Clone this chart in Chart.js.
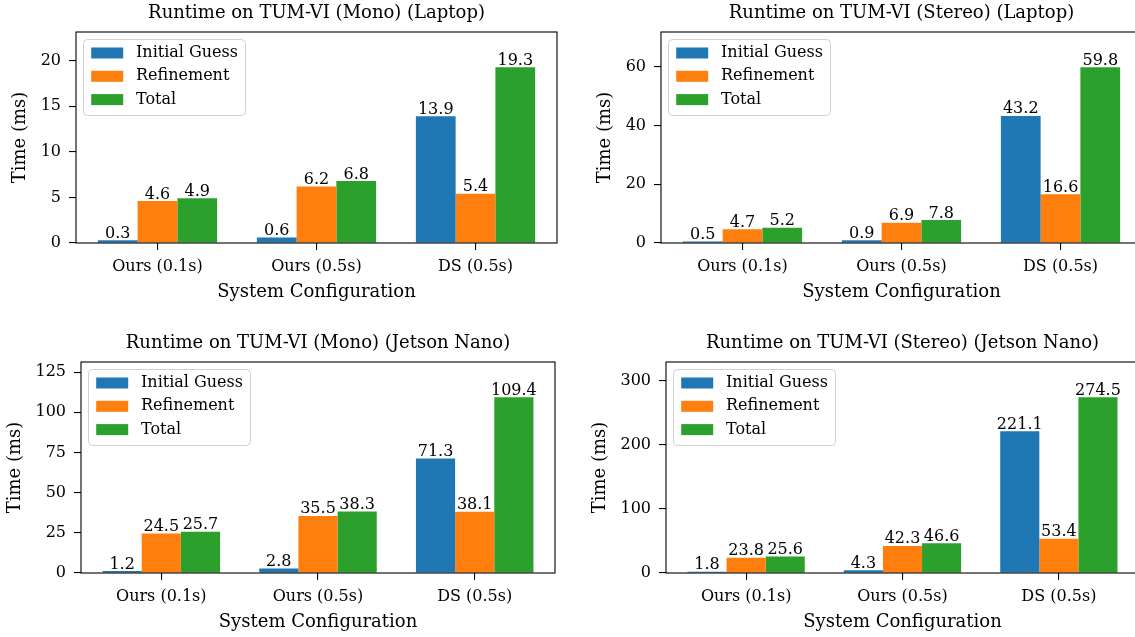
<!DOCTYPE html>
<html>
<head>
<meta charset="utf-8">
<script src="https://cdn.jsdelivr.net/npm/chart.js@4.4.1/dist/chart.umd.min.js"></script>
<style>
  html, body { margin: 0; padding: 0; background: #fff; overflow: hidden; }
  body { width: 1135px; height: 637px; position: relative; }
  canvas { position: absolute; }
</style>
</head>
<body>
<canvas id="monoLaptop"></canvas>
<canvas id="stereoLaptop"></canvas>
<canvas id="monoJetson"></canvas>
<canvas id="stereoJetson"></canvas>
<script>
const configs = ['Ours (0.1s)', 'Ours (0.5s)', 'DS (0.5s)'];
const seriesNames = ['Initial Guess', 'Refinement', 'Total'];

const monoLaptopInitial = [0.3, 0.6, 13.9];
const monoLaptopRefine = [4.6, 6.2, 5.4];
const monoLaptopTotal = [4.9, 6.8, 19.3];
const monoLaptopTicks = [0, 5, 10, 15, 20];

const stereoLaptopInitial = [0.5, 0.9, 43.2];
const stereoLaptopRefine = [4.7, 6.9, 16.6];
const stereoLaptopTotal = [5.2, 7.8, 59.8];
const stereoLaptopTicks = [0, 20, 40, 60];

const monoJetsonInitial = [1.2, 2.8, 71.3];
const monoJetsonRefine = [24.5, 35.5, 38.1];
const monoJetsonTotal = [25.7, 38.3, 109.4];
const monoJetsonTicks = [0, 25, 50, 75, 100, 125];

const stereoJetsonInitial = [1.8, 4.3, 221.1];
const stereoJetsonRefine = [23.8, 42.3, 53.4];
const stereoJetsonTotal = [25.6, 46.6, 274.5];
const stereoJetsonTicks = [0, 100, 200, 300];

const colors = ['#1f77b4', '#ff7f0e', '#2ca02c'];
const FONT = "'DejaVu Serif', serif";
Chart.defaults.font.family = FONT;
Chart.defaults.color = '#000';

// axes padding like matplotlib's default 5% margin around the bar groups
const xMin = -0.375 - 0.05 * (configs.length - 1 + 0.75);
const xMax = configs.length - 1 + 0.375 + 0.05 * (configs.length - 1 + 0.75);

const drawExtras = {
  id: 'drawExtras',
  afterDatasetsDraw(chart) {
    const { ctx, chartArea: a } = chart;
    ctx.save();
    // value labels on top of bars
    ctx.font = '16px ' + FONT;
    ctx.fillStyle = '#000';
    ctx.textAlign = 'center';
    ctx.textBaseline = 'alphabetic';
    chart.data.datasets.forEach((ds, i) => {
      chart.getDatasetMeta(i).data.forEach((bar, j) => {
        ctx.fillText(ds.values[j].toFixed(1), bar.x, bar.y - 2.5);
      });
    });
    // box around axes
    ctx.strokeStyle = '#000';
    ctx.lineWidth = 1.1;
    ctx.strokeRect(a.left, a.top, a.right - a.left, a.bottom - a.top);
    // title
    ctx.font = '18px ' + FONT;
    ctx.textBaseline = 'middle';
    ctx.fillText(chart.options.plotTitle, (a.left + a.right) / 2, a.top - 18.4);
    ctx.restore();
  },
  afterDraw(chart) {
    const { ctx, chartArea: a } = chart;
    ctx.save();
    ctx.font = '16px ' + FONT;
    const tw = Math.max(...chart.data.datasets.map(d => ctx.measureText(d.label).width));
    const x0 = a.left + 7.5, y0 = a.top + 7.5;
    const w = 7.7 + 32 + 12.8 + tw + 7.5, h = 76;
    ctx.beginPath();
    ctx.roundRect(x0, y0, w, h, 4);
    ctx.fillStyle = 'rgba(255,255,255,0.8)';
    ctx.fill();
    ctx.strokeStyle = 'rgba(204,204,204,0.9)';
    ctx.lineWidth = 1;
    ctx.stroke();
    ctx.textAlign = 'left';
    ctx.textBaseline = 'middle';
    chart.data.datasets.forEach((d, i) => {
      const cy = y0 + 13.5 + i * 23.3;
      ctx.fillStyle = d.backgroundColor;
      ctx.fillRect(x0 + 7.7, cy - 5.5, 32, 11);
      ctx.fillStyle = '#000';
      ctx.fillText(d.label, x0 + 7.7 + 32 + 12.8, cy);
    });
    ctx.restore();
  }
};

function makeChart(id, frame, title, series, yTicks, yTitleGap) {
  const W = 80, T = 32, B = 75, R = 10;
  const canvas = document.getElementById(id);
  canvas.width = frame.r - frame.l + W + R;
  canvas.height = frame.b - frame.t + T + B;
  canvas.style.left = (frame.l - W) + 'px';
  canvas.style.top = (frame.t - T) + 'px';

  const yMax = Math.max(...series[2]) * 1.2;

  new Chart(canvas.getContext('2d'), {
    type: 'bar',
    data: {
      datasets: series.map((vals, k) => ({
        label: seriesNames[k],
        data: vals.map((v, i) => ({ x: i, y: v })),
        values: vals,
        backgroundColor: colors[k],
        borderWidth: 0,
        categoryPercentage: 0.75,
        barPercentage: 1.0
      }))
    },
    options: {
      plotTitle: title,
      responsive: false,
      animation: false,
      events: [],
      layout: { padding: { left: 0, top: T, right: R, bottom: 0 } },
      plugins: { legend: { display: false }, tooltip: { enabled: false }, title: { display: false } },
      scales: {
        x: {
          type: 'linear',
          min: xMin,
          max: xMax,
          offset: false,
          bounds: 'data',
          afterBuildTicks: axis => { axis.ticks = configs.map((c, i) => ({ value: i })); },
          afterFit: axis => { axis.height = B; },
          ticks: {
            callback: v => configs[v],
            autoSkip: false,
            maxRotation: 0,
            font: { size: 16 },
            color: '#000',
            padding: 7
          },
          grid: { offset: false, drawOnChartArea: false, drawTicks: true, tickLength: 7, color: '#000', lineWidth: 1.1 },
          border: { display: false },
          title: { display: true, text: 'System Configuration', font: { size: 18 }, color: '#000', padding: { top: 0, bottom: 14.8 } }
        },
        y: {
          type: 'linear',
          min: 0,
          max: yMax,
          bounds: 'data',
          afterBuildTicks: axis => { axis.ticks = yTicks.map(v => ({ value: v })); },
          afterFit: axis => { axis.width = W; },
          ticks: { callback: v => String(v), font: { size: 16 }, color: '#000', padding: 8 },
          grid: { drawOnChartArea: false, drawTicks: true, tickLength: 7, color: '#000', lineWidth: 1.1 },
          border: { display: false },
          title: { display: true, text: 'Time (ms)', font: { size: 18 }, color: '#000', padding: { top: W - yTitleGap - 10.8, bottom: 0 } }
        }
      }
    },
    plugins: [drawExtras]
  });
}

makeChart('monoLaptop', { l: 76, r: 557, t: 32, b: 243 }, 'Runtime on TUM-VI (Mono) (Laptop)',
  [monoLaptopInitial, monoLaptopRefine, monoLaptopTotal], monoLaptopTicks, 56);
makeChart('stereoLaptop', { l: 661, r: 1142, t: 32, b: 243 }, 'Runtime on TUM-VI (Stereo) (Laptop)',
  [stereoLaptopInitial, stereoLaptopRefine, stereoLaptopTotal], stereoLaptopTicks, 56);
makeChart('monoJetson', { l: 81, r: 555, t: 362, b: 573 }, 'Runtime on TUM-VI (Mono) (Jetson Nano)',
  [monoJetsonInitial, monoJetsonRefine, monoJetsonTotal], monoJetsonTicks, 66);
makeChart('stereoJetson', { l: 666, r: 1139, t: 362, b: 573 }, 'Runtime on TUM-VI (Stereo) (Jetson Nano)',
  [stereoJetsonInitial, stereoJetsonRefine, stereoJetsonTotal], stereoJetsonTicks, 66);
</script>
</body>
</html>
